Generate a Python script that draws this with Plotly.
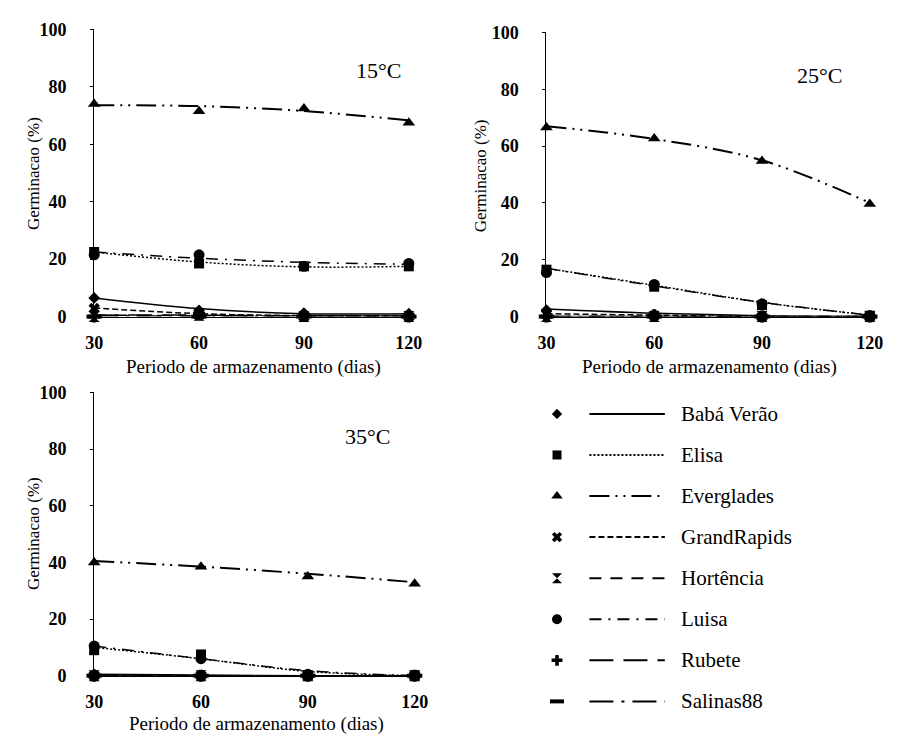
import plotly.graph_objects as go

days = [30, 60, 90, 120]
cultivars = ["Babá Verão", "Elisa", "Everglades", "GrandRapids",
             "Hortência", "Luisa", "Rubete", "Salinas88"]
temps = ["15°C", "25°C", "35°C"]
y_ticks = [0, 20, 40, 60, 80, 100]

# observed germination (%) per cultivar (order of `cultivars`)
obs_15 = [
    [6.5, 2.2, 1.2, 1.0],
    [22.5, 18.5, 17.5, 17.5],
    [74.0, 71.5, 72.5, 67.5],
    [2.8, 0.5, 0.0, 0.0],
    [0.0, 0.5, 0.0, 0.0],
    [21.5, 21.5, 17.5, 18.5],
    [0.0, 1.0, 0.5, 0.0],
    [0.0, 0.0, 0.0, 0.0],
]
fit_15 = [
    [6.5, 2.8, 1.0, 1.0],
    [22.5, 19.0, 17.3, 17.5],
    [73.6, 73.3, 71.6, 68.3],
    [3.0, 1.0, 0.3, 0.2],
    [0.5, 0.3, 0.2, 0.2],
    [22.5, 20.3, 18.9, 18.2],
    [0.5, 0.5, 0.3, 0.2],
    [0.2, 0.2, 0.2, 0.2],
]
obs_25 = [
    [2.3, 0.6, 0.0, 0.0],
    [16.5, 10.5, 4.0, 0.3],
    [66.5, 62.7, 54.7, 39.6],
    [0.8, 0.3, 0.0, 0.0],
    [0.0, 0.0, 0.0, 0.0],
    [15.5, 11.3, 4.5, 0.3],
    [0.0, 0.5, 0.0, 0.0],
    [0.0, 0.0, 0.0, 0.0],
]
fit_25 = [
    [2.7, 1.2, 0.3, 0.0],
    [17.0, 11.0, 5.0, 0.5],
    [67.0, 62.5, 55.0, 40.0],
    [1.0, 0.5, 0.0, 0.0],
    [0.0, 0.0, 0.0, 0.0],
    [17.0, 10.8, 5.0, 0.5],
    [0.0, 0.0, 0.0, 0.0],
    [0.0, 0.0, 0.0, 0.0],
]
obs_35 = [
    [0.5, 0.0, 0.0, 0.0],
    [9.0, 7.5, 0.0, 0.0],
    [40.0, 38.5, 35.0, 32.5],
    [0.0, 0.0, 0.0, 0.0],
    [0.0, 0.0, 0.0, 0.0],
    [10.5, 6.0, 0.5, 0.0],
    [0.0, 0.0, 0.0, 0.0],
    [0.0, 0.0, 0.0, 0.0],
]
fit_35 = [
    [0.5, 0.2, 0.0, 0.0],
    [10.0, 6.0, 1.5, 0.0],
    [40.5, 38.5, 36.0, 33.0],
    [0.0, 0.0, 0.0, 0.0],
    [0.0, 0.0, 0.0, 0.0],
    [10.5, 6.0, 1.8, 0.0],
    [0.0, 0.0, 0.0, 0.0],
    [0.0, 0.0, 0.0, 0.0],
]

# styles
symbols = ["diamond", "square", "triangle-up", "x", "hourglass", "circle", "cross", "line-ew"]
msizes = [9, 10, 11, 10, 11, 11, 10, 11]
dashes = ["solid", "2px,2px", "20px,6px,2px,6px,2px,6px", "6px,3px", "12px,9px",
          "12px,7px,2px,7px", "24px,10px", "24px,8px,3px,8px"]

W, H = 902, 747
def px_dom_x(a, b):
    return [a / W, b / W]
def px_dom_y(top, bot):
    return [(H - bot) / H, (H - top) / H]

panels = [
    dict(obs=obs_15, fit=fit_15, xd=px_dom_x(87, 412), yd=px_dom_y(20, 315)),
    dict(obs=obs_25, fit=fit_25, xd=px_dom_x(549, 883), yd=px_dom_y(23, 315)),
    dict(obs=obs_35, fit=fit_35, xd=px_dom_x(87, 418), yd=px_dom_y(393, 684)),
]

fig = go.Figure()
serif = "Liberation Serif, Times New Roman, serif"

for p, pan in enumerate(panels):
    xa = "x" if p == 0 else f"x{p+1}"
    ya = "y" if p == 0 else f"y{p+1}"
    for i, c in enumerate(cultivars):
        fig.add_trace(go.Scatter(
            x=days, y=pan["fit"][i], mode="lines", xaxis=xa, yaxis=ya,
            line=dict(color="black", width=2 if i == 2 else 1.5, dash=dashes[i], shape="spline"),
            showlegend=False, cliponaxis=False, hoverinfo="skip"))
    for i, c in enumerate(cultivars):
        mk = dict(symbol=symbols[i], size=msizes[i], color="black",
                  line=dict(color="black", width=4 if symbols[i] == "line-ew" else 0))
        fig.add_trace(go.Scatter(
            x=days, y=pan["obs"][i], mode="markers", xaxis=xa, yaxis=ya,
            marker=mk, name=c, showlegend=False, cliponaxis=False))

# custom legend in a hidden axis
leg_x_marker = 0.55
leg_line = [1.47, 3.61]
leg_text_x = 4.0
for i, c in enumerate(cultivars):
    fig.add_trace(go.Scatter(
        x=[leg_x_marker], y=[i], mode="markers", xaxis="x4", yaxis="y4",
        marker=dict(symbol=symbols[i], size=msizes[i] - 1, color="black",
                    line=dict(color="black", width=4 if symbols[i] == "line-ew" else 0)),
        showlegend=False, cliponaxis=False, hoverinfo="skip"))
    fig.add_trace(go.Scatter(
        x=leg_line, y=[i, i], mode="lines", xaxis="x4", yaxis="y4",
        line=dict(color="black", width=2, dash=dashes[i]),
        showlegend=False, cliponaxis=False, hoverinfo="skip"))

annotations = []
for i, c in enumerate(cultivars):
    annotations.append(dict(x=leg_text_x, y=i, xref="x4", yref="y4", text=c,
                            showarrow=False, xanchor="left", yanchor="middle",
                            font=dict(family=serif, size=21, color="black")))

temp_pos = [(377, 62), (828, 67), (366, 438)]
for t, (tx, ty) in zip(temps, temp_pos):
    annotations.append(dict(x=tx / W, y=(H - ty) / H, xref="paper", yref="paper", text=t,
                            showarrow=False, xanchor="center", yanchor="middle",
                            font=dict(family=serif, size=22, color="black")))

xt_pos = [(250, 367), (716, 367), (253, 734)]
yt_pos = [(25, 168), (482, 170), (25, 538)]
for (xx, xy), (yx, yy) in zip(xt_pos, yt_pos):
    annotations.append(dict(x=xx / W, y=(H - xy) / H, xref="paper", yref="paper",
                            text="Periodo de armazenamento (dias)", showarrow=False,
                            xanchor="center", yanchor="middle",
                            font=dict(family=serif, size=19, color="black")))
    annotations.append(dict(x=yx / W, y=(H - yy) / H, xref="paper", yref="paper",
                            text="Germinacao (%)", showarrow=False, textangle=-90,
                            xanchor="center", yanchor="middle",
                            font=dict(family=serif, size=17, color="black")))

layout = dict(
    width=W, height=H, margin=dict(l=0, r=0, t=0, b=0),
    paper_bgcolor="white", plot_bgcolor="white",
    annotations=annotations, showlegend=False,
)
tickfont = dict(family=serif, size=18, color="black", weight="bold")
for p, pan in enumerate(panels):
    sx = "xaxis" if p == 0 else f"xaxis{p+1}"
    sy = "yaxis" if p == 0 else f"yaxis{p+1}"
    ya = "y" if p == 0 else f"y{p+1}"
    xa = "x" if p == 0 else f"x{p+1}"
    layout[sx] = dict(domain=pan["xd"], anchor=ya, range=[30, 121], tickvals=days,
                      showline=True, linecolor="black", linewidth=1, showgrid=False,
                      zeroline=False, ticks="", ticklabelstandoff=10,
                      tickfont=tickfont)
    layout[sy] = dict(domain=pan["yd"], anchor=xa, range=[0, 100], tickvals=y_ticks,
                      showline=True, linecolor="black", linewidth=1, showgrid=False,
                      zeroline=False, ticks="outside", ticklen=3, tickcolor="black",
                      ticklabelstandoff=20, tickfont=tickfont)

layout["xaxis4"] = dict(domain=[540 / W, 900 / W], anchor="y4", range=[0, 10],
                        visible=False)
layout["yaxis4"] = dict(domain=px_dom_y(393.9, 731.5), anchor="x4", range=[7.5, -0.5],
                        visible=False)

fig.update_layout(**layout)
fig.write_html("out.html")
